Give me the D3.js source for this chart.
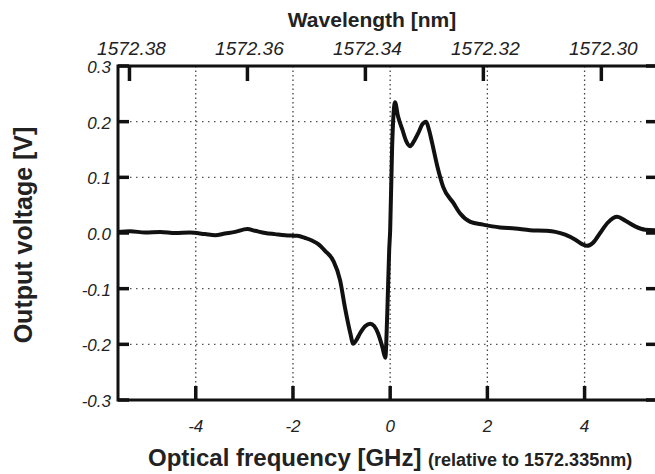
<!DOCTYPE html>
<meta charset="utf-8">
<style>
	body {
		margin:			0px;
		background:		white;
	}
	text {
		font-family:	"Liberation Sans", Arial, sans-serif;
	}
	.tick-label {
		font-style:		italic;
	}
	.title {
		font-weight:	bold;
	}
</style>
<body>
<script src="https://d3js.org/d3.v7.min.js"></script>
<script>

	//Measured trace: frequency offset in GHz
	var freq = [-5.60, -5.35, -5.04, -4.73, -4.42, -4.12, -3.81, -3.60, -3.40, -3.19,
				-2.94, -2.78, -2.57, -2.37, -2.16, -1.91, -1.75, -1.60, -1.48, -1.34,
				-1.17, -1.03, -0.93, -0.82, -0.76, -0.70, -0.62, -0.51, -0.41, -0.33,
				-0.25, -0.16, -0.10, -0.06, -0.02, 0.00, 0.04, 0.10, 0.16, 0.25,
				0.33, 0.41, 0.49, 0.58, 0.66, 0.74, 0.80, 0.86, 0.97, 1.09,
				1.30, 1.44, 1.65, 1.91, 2.26, 2.57, 2.88, 3.19, 3.40, 3.60,
				3.81, 3.95, 4.05, 4.18, 4.32, 4.47, 4.59, 4.67, 4.84, 5.04,
				5.25, 5.47];
	//Measured trace: output voltage in V
	var voltage = [0.002, 0.003, 0.001, 0.002, 0.000, 0.001, -0.002, -0.004, -0.001, 0.002,
				0.007, 0.004, 0.000, -0.002, -0.004, -0.005, -0.009, -0.014, -0.020, -0.032,
				-0.050, -0.085, -0.134, -0.180, -0.199, -0.193, -0.180, -0.167, -0.163, -0.167,
				-0.180, -0.205, -0.224, -0.145, -0.030, 0.005, 0.155, 0.235, 0.210, 0.186,
				0.165, 0.156, 0.165, 0.180, 0.195, 0.200, 0.185, 0.163, 0.120, 0.083,
				0.054, 0.035, 0.020, 0.015, 0.010, 0.008, 0.005, 0.004, 0.002, -0.003,
				-0.012, -0.020, -0.023, -0.017, 0.000, 0.018, 0.027, 0.029, 0.022, 0.012,
				0.006, 0.005];

	//Axis ticks
	var freqTicks = [-4, -2, 0, 2, 4];
	var voltTicks = [-0.3, -0.2, -0.1, 0.0, 0.1, 0.2, 0.3];
	var wlTicks = [1572.38, 1572.36, 1572.34, 1572.32, 1572.30];
	var gridFreq = [-4, -2, 0, 2, 4];
	var gridVolt = [-0.2, -0.1, 0.1, 0.2];

	//Wavelength conversion (nm at zero offset, nm per GHz)
	var lambda0 = 1572.3358;
	var nmPerGHz = 0.00824;

	var data = freq.map(function(f, i) { return {f: f, v: voltage[i]}; });

	var width = 655,
		height = 474;
	var plotLeft = 118,
		plotRight = 657,
		plotTop = 66,
		plotBottom = 400;

	var svg = 	d3.select("body")
					.append("svg")
					.attr("width", width)
					.attr("height", height);

	var xDomain = [-5.6, 5.49];
	var xScale = 	d3.scaleLinear()
						.domain(xDomain)
						.range([plotLeft, plotRight]);
	var yScale = 	d3.scaleLinear()
						.domain([-0.3, 0.3])
						.range([plotBottom, plotTop]);
	//Top axis in wavelength, derived from the frequency range
	var wlScale = 	d3.scaleLinear()
						.domain(xDomain.map(function(f) { return lambda0 - nmPerGHz * f; }))
						.range([plotLeft, plotRight]);

	//Dotted grid
	svg.selectAll("line.vgrid")
		.data(gridFreq)
		.enter()
		.append("line")
		.attr("class", "vgrid")
		.attr("x1", function(d) { return xScale(d); })
		.attr("x2", function(d) { return xScale(d); })
		.attr("y1", plotTop)
		.attr("y2", plotBottom)
		.attr("stroke", "#444")
		.attr("stroke-width", 1.3)
		.attr("stroke-dasharray", "1.5,3");
	svg.selectAll("line.hgrid")
		.data(gridVolt)
		.enter()
		.append("line")
		.attr("class", "hgrid")
		.attr("x1", plotLeft)
		.attr("x2", plotRight)
		.attr("y1", function(d) { return yScale(d); })
		.attr("y2", function(d) { return yScale(d); })
		.attr("stroke", "#555")
		.attr("stroke-width", 1.3)
		.attr("stroke-dasharray", "1.5,4.5");

	//Frame
	svg.append("rect")
		.attr("x", plotLeft)
		.attr("y", plotTop)
		.attr("width", plotRight - plotLeft)
		.attr("height", plotBottom - plotTop)
		.attr("fill", "none")
		.attr("stroke", "#111")
		.attr("stroke-width", 3);

	//Inward tick marks
	function tickMarks(cls, values, x1, x2, y1, y2) {
		svg.selectAll("line." + cls)
			.data(values)
			.enter()
			.append("line")
			.attr("class", cls)
			.attr("x1", x1)
			.attr("x2", x2)
			.attr("y1", y1)
			.attr("y2", y2)
			.attr("stroke", "#111")
			.attr("stroke-width", 3.5);
	}
	tickMarks("lt", voltTicks, plotLeft, plotLeft + 11,
		function(d) { return yScale(d); }, function(d) { return yScale(d); });
	tickMarks("rt", voltTicks, plotRight - 11, plotRight,
		function(d) { return yScale(d); }, function(d) { return yScale(d); });
	tickMarks("bt", freqTicks, function(d) { return xScale(d); }, function(d) { return xScale(d); },
		plotBottom - 14, plotBottom);
	tickMarks("tt", wlTicks, function(d) { return wlScale(d); }, function(d) { return wlScale(d); },
		plotTop, plotTop + 15);

	//Tick labels
	svg.selectAll("text.ylab")
		.data(voltTicks)
		.enter()
		.append("text")
		.attr("class", "tick-label")
		.attr("x", plotLeft - 7)
		.attr("y", function(d) { return yScale(d) + 7; })
		.attr("text-anchor", "end")
		.attr("font-size", "17px")
		.attr("fill", "#222")
		.text(function(d) { return d3.format(".1f")(d).replace("−", "-"); });
	svg.selectAll("text.xlab")
		.data(freqTicks)
		.enter()
		.append("text")
		.attr("class", "tick-label")
		.attr("x", function(d) { return xScale(d); })
		.attr("y", plotBottom + 32)
		.attr("text-anchor", "middle")
		.attr("font-size", "17px")
		.attr("fill", "#222")
		.text(function(d) { return String(d); });
	svg.selectAll("text.wlab")
		.data(wlTicks)
		.enter()
		.append("text")
		.attr("class", "tick-label")
		.attr("x", function(d) { return wlScale(d) + 2; })
		.attr("y", plotTop - 11)
		.attr("text-anchor", "middle")
		.attr("font-size", "19px")
		.attr("fill", "#222")
		.text(function(d) { return d.toFixed(2); });

	//Trace
	var line = d3.line()
		.x(function(d) { return xScale(d.f); })
		.y(function(d) { return yScale(d.v); })
		.curve(d3.curveMonotoneX);
	svg.append("path")
		.datum(data)
		.attr("d", line)
		.attr("fill", "none")
		.attr("stroke", "#111")
		.attr("stroke-width", 4)
		.attr("stroke-linejoin", "round");

	//Axis titles
	svg.append("text")
		.attr("class", "title")
		.attr("x", 372)
		.attr("y", 27)
		.attr("text-anchor", "middle")
		.attr("font-size", "21px")
		.attr("fill", "#222")
		.text("Wavelength [nm]");
	svg.append("text")
		.attr("class", "title")
		.attr("transform", "translate(32,235) rotate(-90)")
		.attr("text-anchor", "middle")
		.attr("font-size", "25px")
		.attr("fill", "#222")
		.text("Output voltage [V]");
	var xt = svg.append("text")
		.attr("class", "title")
		.attr("x", 148)
		.attr("y", 466)
		.attr("fill", "#222");
	xt.append("tspan")
		.attr("font-size", "24px")
		.text("Optical frequency [GHz] ");
	xt.append("tspan")
		.attr("font-size", "18px")
		.text("(relative to 1572.335nm)");

</script>
</body>
